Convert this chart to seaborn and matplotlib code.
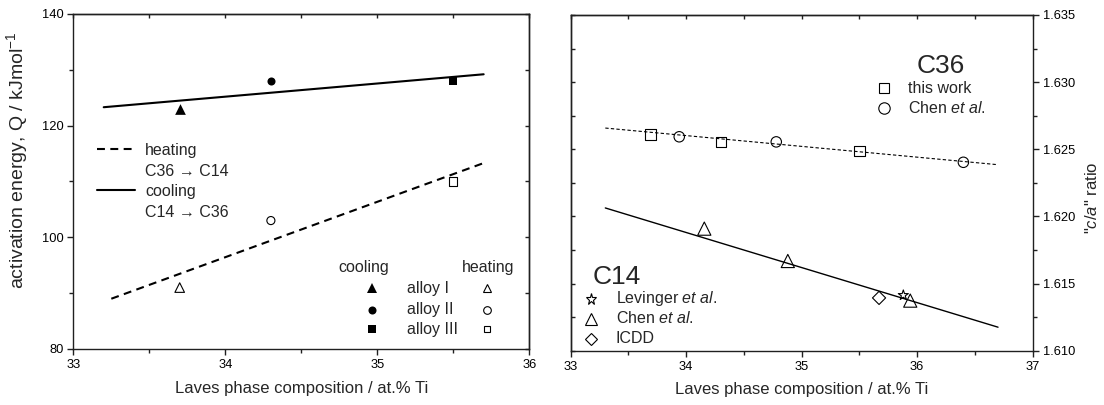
import numpy as np
import pandas as pd
import matplotlib
matplotlib.use("Agg")
import matplotlib.pyplot as plt
import seaborn as sns
from matplotlib.ticker import MultipleLocator, NullFormatter, FormatStrFormatter

# ---------------- data: activation energy of the C14 <-> C36 transformation
alloys = ["alloy I", "alloy II", "alloy III"]
alloy_markers = ["^", "o", "s"]
alloy_ti = [33.7, 34.3, 35.5]
q_cooling = [123, 128, 128]
q_heating = [91, 103, 110]
# linear regressions (end points of the drawn lines)
cool_fit_ti = [33.2, 35.7]
cool_fit_q = [123.3, 129.2]
heat_fit_ti = [33.25, 35.7]
heat_fit_q = [89.0, 113.3]

# ---------------- data: lattice parameter ratio c/a
c36_this_ti = [33.69, 34.30, 35.50]
c36_this_ca = [1.6261, 1.62555, 1.62488]
c36_chen_ti = [33.94, 34.78, 36.40]
c36_chen_ca = [1.62593, 1.62555, 1.62403]
c36_fit_ti = [33.3, 36.7]
c36_fit_ca = [1.62658, 1.62385]

c14_chen_ti = [34.157, 34.88, 35.94]
c14_chen_ca = [1.61909, 1.61668, 1.61373]
c14_lev_ti = [35.88]
c14_lev_ca = [1.61413]
c14_icdd_ti = [35.67]
c14_icdd_ca = [1.61393]
c14_fit_ti = [33.3, 36.7]
c14_fit_ca = [1.62063, 1.61175]

sns.set_theme(style="ticks")
plt.rcParams["font.family"] = ["Liberation Sans", "DejaVu Sans"]
plt.rcParams["mathtext.fontset"] = "custom"
plt.rcParams["mathtext.rm"] = "Liberation Sans"
plt.rcParams["mathtext.it"] = "Liberation Sans:italic"
plt.rcParams["mathtext.bf"] = "Liberation Sans:bold"
plt.rcParams["axes.linewidth"] = 1.0
plt.rcParams["axes.edgecolor"] = "#202020"
plt.rcParams["xtick.color"] = "#202020"
plt.rcParams["ytick.color"] = "#202020"
plt.rcParams["xtick.labelcolor"] = "black"
plt.rcParams["ytick.labelcolor"] = "black"

TICK_FS = 9.3
LABEL_FS = 12
LEG_FS = 11.5
BIG_FS = 19

fig = plt.figure(figsize=(11.04, 4.05), dpi=100)
axL = fig.add_axes([0.0664, 0.1383, 0.4130, 0.8272])
axR = fig.add_axes([0.5169, 0.1341, 0.4185, 0.8289])


def style_axis(ax, xmaj, xmin, ymaj, ymin, ylabels_right=False):
    ax.xaxis.set_major_locator(MultipleLocator(xmaj))
    ax.xaxis.set_minor_locator(MultipleLocator(xmin))
    ax.yaxis.set_major_locator(MultipleLocator(ymaj))
    ax.yaxis.set_minor_locator(MultipleLocator(ymin))
    ax.tick_params(which="major", direction="out", length=4.6, width=1.0,
                   labelsize=TICK_FS, pad=2.5)
    ax.tick_params(which="minor", direction="out", length=2.9, width=1.0)
    # mirrored inward ticks on the opposite sides
    top = ax.secondary_xaxis("top")
    top.xaxis.set_major_locator(MultipleLocator(xmaj))
    top.xaxis.set_minor_locator(MultipleLocator(xmin))
    top.xaxis.set_major_formatter(NullFormatter())
    top.tick_params(which="both", direction="in", length=2.6, width=1.0)
    if ylabels_right:
        ax.yaxis.tick_right()
        ax.yaxis.set_label_position("right")
        other = ax.secondary_yaxis("left")
    else:
        other = ax.secondary_yaxis("right")
    other.yaxis.set_major_locator(MultipleLocator(ymaj))
    other.yaxis.set_minor_locator(MultipleLocator(ymin))
    other.yaxis.set_major_formatter(NullFormatter())
    other.tick_params(which="both", direction="in", length=3.0, width=1.0)


# ======================= left panel: activation energy =======================
sns.lineplot(x=cool_fit_ti, y=cool_fit_q, ax=axL, color="black", lw=1.5)
sns.lineplot(x=heat_fit_ti, y=heat_fit_q, ax=axL, color="black", lw=1.5,
             linestyle=(0, (3.8, 2.6)))

filled_sizes = [7.7, 5.8, 5.8]
open_sizes = [6.9, 5.8, 5.8]
for m, x, qc, qh, fs, osz in zip(alloy_markers, alloy_ti, q_cooling, q_heating,
                                 filled_sizes, open_sizes):
    sns.scatterplot(x=[x], y=[qc], ax=axL, marker=m, s=fs ** 2, color="black",
                    edgecolor="black", linewidth=0, legend=False, zorder=3)
    sns.scatterplot(x=[x], y=[qh], ax=axL, marker=m, s=osz ** 2, facecolor="none",
                    edgecolor="black", linewidth=0.8, legend=False, zorder=3)

axL.set_xlim(33, 36)
axL.set_ylim(80, 140)
style_axis(axL, 1, 0.5, 20, 10)
axL.set_xlabel("Laves phase composition / at.% Ti", fontsize=LABEL_FS, labelpad=7)
axL.set_ylabel("activation energy, Q / kJmol$^{-1}$", fontsize=14)
axL.yaxis.set_label_coords(-0.095, 0.564)

# line legend (upper left)
tr = axL.transAxes
axL.plot([0.052, 0.135], [0.596, 0.596], transform=tr, color="black", lw=1.5,
         linestyle=(0, (3.8, 2.6)))
axL.plot([0.052, 0.135], [0.475, 0.475], transform=tr, color="black", lw=1.5)
for txt, fy in [("heating", 0.579), ("C36 \u2192 C14", 0.516),
                ("cooling", 0.457), ("C14 \u2192 C36", 0.395)]:
    axL.text(0.157, fy, txt, transform=tr, fontsize=LEG_FS, va="baseline", ha="left")

# marker legend (lower right)
axL.text(0.581, 0.231, "cooling", transform=tr, fontsize=LEG_FS, va="baseline")
axL.text(0.852, 0.231, "heating", transform=tr, fontsize=LEG_FS, va="baseline")
key_y = [0.181, 0.116, 0.059]
text_y = [0.166, 0.1045, 0.045]
leg_open = [6.0, 5.5, 4.8]
for m, name, ky, ty, fs, osz in zip(alloy_markers, alloys, key_y, text_y,
                                    filled_sizes, leg_open):
    axL.plot([0.6544], [ky], transform=tr, marker=m, ms=fs, color="black",
             mec="black", mew=0, ls="none")
    axL.plot([0.9079], [ky], transform=tr, marker=m, ms=osz, mfc="none",
             mec="black", mew=0.8, ls="none")
    axL.text(0.7325, ty, name, transform=tr, fontsize=LEG_FS, va="baseline")

# ======================= right panel: c/a ratio =======================
sns.lineplot(x=c36_fit_ti, y=c36_fit_ca, ax=axR, color="black", lw=0.8,
             linestyle=(0, (3.0, 2.0)))
sns.lineplot(x=c14_fit_ti, y=c14_fit_ca, ax=axR, color="black", lw=1.0)

open_kw = dict(facecolor="none", edgecolor="black", linewidth=0.8,
               legend=False, zorder=3, ax=axR)
sns.scatterplot(x=c36_this_ti, y=c36_this_ca, marker="s", s=7.5 ** 2, **open_kw)
sns.scatterplot(x=c36_chen_ti, y=c36_chen_ca, marker="o", s=7.5 ** 2, **open_kw)
sns.scatterplot(x=c14_chen_ti, y=c14_chen_ca, marker="^", s=9.5 ** 2, **open_kw)
sns.scatterplot(x=c14_lev_ti, y=c14_lev_ca, marker="*", s=7.6 ** 2, **open_kw)
sns.scatterplot(x=c14_icdd_ti, y=c14_icdd_ca, marker="D", s=6.7 ** 2, **open_kw)

axR.set_xlim(33, 37)
axR.set_ylim(1.610, 1.635)
style_axis(axR, 1, 0.5, 0.005, 0.0025, ylabels_right=True)
axR.yaxis.set_major_formatter(FormatStrFormatter("%.3f"))
axR.set_xlabel("Laves phase composition / at.% Ti", fontsize=LABEL_FS, labelpad=7)
axR.set_ylabel('"$\\mathit{c/a}$" ratio', fontsize=LABEL_FS)
axR.yaxis.set_label_coords(1.111, 0.455)

trR = axR.transAxes
axR.text(0.7496, 0.827, "C36", transform=trR, fontsize=BIG_FS, va="baseline")
axR.plot([0.678], [0.7817], transform=trR, marker="s", ms=7.2, mfc="none",
         mec="black", mew=0.8, ls="none")
axR.text(0.7301, 0.7676, "this work", transform=trR, fontsize=LEG_FS, va="baseline")
axR.plot([0.678], [0.7221], transform=trR, marker="o", ms=8.2, mfc="none",
         mec="black", mew=0.8, ls="none")
axR.text(0.7301, 0.7072, "Chen $\\mathit{et\\ al.}$", transform=trR,
         fontsize=LEG_FS, va="baseline")

axR.text(0.0483, 0.1978, "C14", transform=trR, fontsize=BIG_FS, va="baseline")
axR.plot([0.0439], [0.154], transform=trR, marker="*", ms=8.3, mfc="none",
         mec="black", mew=0.8, ls="none")
axR.text(0.098, 0.1412, "Levinger $\\mathit{et\\ al.}$", transform=trR,
         fontsize=LEG_FS, va="baseline")
axR.plot([0.0439], [0.0944], transform=trR, marker="^", ms=8.9, mfc="none",
         mec="black", mew=0.8, ls="none")
axR.text(0.098, 0.0816, "Chen $\\mathit{et\\ al.}$", transform=trR,
         fontsize=LEG_FS, va="baseline")
axR.plot([0.0439], [0.0349], transform=trR, marker="D", ms=6.3, mfc="none",
         mec="black", mew=0.8, ls="none")
axR.text(0.098, 0.022, "ICDD", transform=trR, fontsize=LEG_FS, va="baseline")

fig.savefig("out.png", dpi=100)
